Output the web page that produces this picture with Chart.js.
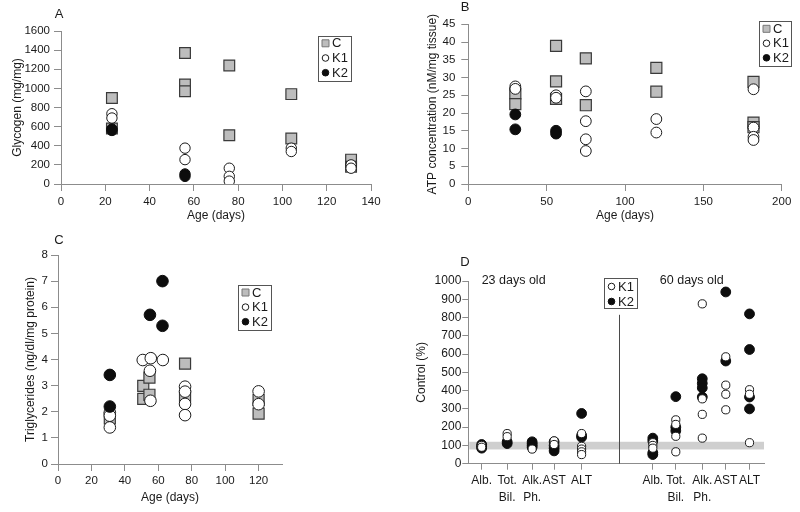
<!DOCTYPE html>
<html>
<head>
<meta charset="utf-8">
<script src="https://cdn.jsdelivr.net/npm/chart.js"></script>
<style>
html, body { margin: 0; padding: 0; background: #fff; }
body { width: 800px; height: 512px; position: relative; overflow: hidden; }
canvas { position: absolute; }
</style>
</head>
<body>
<canvas id="chartA" width="400" height="230" style="left:0;top:0"></canvas>
<canvas id="chartB" width="400" height="230" style="left:400px;top:0"></canvas>
<canvas id="chartC" width="400" height="282" style="left:0;top:230px"></canvas>
<canvas id="chartD" width="400" height="256" style="left:400px;top:256px"></canvas>
<script>
// Panel A - glycogen (mg/mg) by age group
const glyAges = [23, 56, 76, 104, 131];
const glyC  = [[900, 580], [1370, 1040, 970], [1240, 510], [940, 475], [255, 180]];
const glyK1 = [[735, 690], [375, 255], [165, 80, 30], [375, 340], [200, 165]];
const glyK2 = [[575, 560], [105, 80], [], [], []];

// Panel B - ATP concentration (nM/mg tissue)
const atpAges = [30, 56, 75, 120, 182];
const atpC  = [[25.5, 22.5], [38.9, 28.9, 24.0], [35.4, 22.2], [32.7, 26.0], [28.8, 17.3, 16.0]];
const atpK1 = [[27.5, 26.8], [25.0, 24.3], [26.1, 17.7, 12.6, 9.3], [18.3, 14.5], [26.7, 15.9, 13.3, 12.4]];
const atpK2 = [[19.6, 15.4], [15.0, 14.2], [], [], []];

// Panel C - triglycerides (ng/dl/mg protein)
const tgAgeC  = [31, 51, 51, 54.7, 54.7, 76, 76, 120, 120];
const tgValC  = [1.75, 2.99, 2.49, 3.31, 2.65, 3.84, 2.6, 1.93, 2.45];
const tgAgeK1 = [31, 31, 31, 50.7, 55.5, 55, 55.3, 62.7, 76, 76, 76, 76, 120, 120];
const tgValK1 = [1.97, 1.85, 1.4, 3.98, 4.05, 3.57, 2.42, 3.98, 2.96, 2.77, 2.3, 1.87, 2.78, 2.29];
const tgAgeK2 = [31, 31, 55, 62.5, 62.5];
const tgValK2 = [3.41, 2.2, 5.71, 7.0, 5.29];

// Panel D - liver tests, % of control
const enzymeLabels = ['Alb.', ['Tot.', 'Bil.'], ['Alk.', 'Ph.'], 'AST', 'ALT'];
const pos23 = [1, 2.02, 3.02, 3.9, 5];
const pos60 = [7.85, 8.77, 9.83, 10.77, 11.72];
const k1Day23 = [[100, 90], [165, 148], [80], [125, 105], [165, 95, 80, 65, 50]];
const k2Day23 = [[105, 95, 85], [120, 110], [120, 110, 100, 90], [120, 100, 85, 70], [275, 155, 145]];
const k1Day60 = [[115, 100, 85], [240, 215, 150, 65], [875, 355, 270, 140], [585, 430, 380, 295], [405, 380, 115]];
const k2Day60 = [[140, 125, 60, 50], [367, 200, 180], [465, 440, 415, 365], [940, 562], [820, 625, 365, 300]];
const normalBand = [78, 120];
const groupNotes = [{text: '23 days old', x: 1.0}, {text: '60 days old', x: 8.13}];

const FONT = '"Liberation Sans", Arial, Helvetica, sans-serif';
const AXIS_GREY = '#8c8c8c';
const INK = '#1a1a1a';

function groupPoints(xs, groups) {
    const pts = [];
    groups.forEach((vals, i) => vals.forEach(v => pts.push({x: xs[i], y: v})));
    return pts;
}
function pairPoints(xs, ys) {
    return xs.map((x, i) => ({x: x, y: ys[i]}));
}

function marker(kind, r) {
    if (kind === 'C') {
        return {pointStyle: 'rect', backgroundColor: '#bdbdbd', borderColor: '#3a3a3a',
            pointBackgroundColor: '#bdbdbd', pointBorderColor: '#3a3a3a', pointBorderWidth: 1.2,
            pointRadius: r, pointHoverRadius: r};
    }
    const fill = kind === 'K1' ? '#ffffff' : '#0d0d0d';
    const edge = kind === 'K1' ? '#1a1a1a' : '#0d0d0d';
    return {pointStyle: 'circle', backgroundColor: fill, borderColor: edge,
        pointBackgroundColor: fill, pointBorderColor: edge, pointBorderWidth: 1,
        pointRadius: r, pointHoverRadius: r};
}

function axis(o) {
    return {
        type: 'linear',
        min: o.min,
        max: o.max,
        border: {display: true, color: AXIS_GREY, width: 1},
        grid: {drawOnChartArea: false, drawTicks: true, tickLength: o.tickLength || 7, color: AXIS_GREY},
        ticks: {stepSize: o.step, includeBounds: false, padding: o.pad, color: INK,
            font: {family: FONT, size: o.size || 11.5}, maxRotation: 0, autoSkip: false,
            callback: v => String(v)},
        title: o.title ? {display: true, text: o.title, color: INK,
            font: {family: FONT, size: 12}, padding: o.titlePad} : {display: false},
        afterFit: s => {
            if (o.width) s.width = o.width;
            if (o.height) s.height = o.height;
        }
    };
}

// draws panel letter, boxed legend, reference band, divider and group notes
const decor = {
    id: 'decor',
    beforeDatasetsDraw(chart, args, o) {
        const {ctx, chartArea: a, scales: {x, y}} = chart;
        if (o.band) {
            const top = y.getPixelForValue(o.band[1]);
            const bot = y.getPixelForValue(o.band[0]);
            ctx.save();
            ctx.fillStyle = '#cfcfcf';
            ctx.fillRect(a.left + 1, top, a.right - a.left - 1, bot - top);
            ctx.restore();
        }
        if (o.divider) {
            const px = Math.round(x.getPixelForValue(o.divider.at)) + 0.5;
            ctx.save();
            ctx.strokeStyle = '#4a4a4a';
            ctx.lineWidth = 1;
            ctx.beginPath();
            ctx.moveTo(px, y.getPixelForValue(0));
            ctx.lineTo(px, y.getPixelForValue(o.divider.top));
            ctx.stroke();
            ctx.restore();
        }
    },
    afterDraw(chart, args, o) {
        const {ctx, scales: {x, y}} = chart;
        ctx.save();
        if (o.letter) {
            ctx.font = '13px ' + FONT;
            ctx.fillStyle = INK;
            ctx.textAlign = 'center';
            ctx.textBaseline = 'middle';
            ctx.fillText(o.letter.text, o.letter.x, o.letter.y);
        }
        if (o.notes) {
            ctx.font = '12.5px ' + FONT;
            ctx.fillStyle = INK;
            ctx.textAlign = 'left';
            ctx.textBaseline = 'middle';
            o.notes.forEach(n => ctx.fillText(n.text, x.getPixelForValue(n.x), y.getPixelForValue(o.notesAt)));
        }
        if (o.legend) {
            const L = o.legend;
            ctx.strokeStyle = '#555';
            ctx.lineWidth = 1;
            ctx.strokeRect(L.x + 0.5, L.y + 0.5, L.w, L.h);
            ctx.font = '13px ' + FONT;
            ctx.textAlign = 'left';
            ctx.textBaseline = 'middle';
            chart.data.datasets.forEach((ds, i) => {
                const cx = L.x + 7.5;
                const cy = L.y + L.first + i * L.step;
                ctx.fillStyle = ds.backgroundColor;
                ctx.strokeStyle = ds.pointStyle === 'rect' ? '#777' : ds.borderColor;
                ctx.beginPath();
                if (ds.pointStyle === 'rect') ctx.rect(cx - 3.5, cy - 3.5, 7, 7);
                else ctx.arc(cx, cy, 3.3, 0, Math.PI * 2);
                ctx.fill();
                ctx.stroke();
                ctx.fillStyle = INK;
                ctx.fillText(ds.label, L.x + 14, cy + 0.5);
            });
        }
        ctx.restore();
    }
};
Chart.register(decor);

function baseOptions(pad, scales, decorOpts) {
    return {
        responsive: false,
        animation: false,
        devicePixelRatio: 1,
        events: [],
        layout: {padding: pad},
        scales: scales,
        plugins: {legend: {display: false}, tooltip: {enabled: false}, decor: decorOpts}
    };
}

// A
new Chart(document.getElementById('chartA'), {
    type: 'scatter',
    data: {datasets: [
        Object.assign({label: 'C', order: 3, data: groupPoints(glyAges, glyC)}, marker('C', 7.6)),
        Object.assign({label: 'K1', order: 2, data: groupPoints(glyAges, glyK1)}, marker('K1', 5.2)),
        Object.assign({label: 'K2', order: 1, data: groupPoints(glyAges, glyK2)}, marker('K2', 5.2))
    ]},
    options: baseOptions({left: 4, top: 31, right: 29, bottom: 2}, {
        x: axis({min: 0, max: 140, step: 20, pad: 3.8, height: 44, title: 'Age (days)', titlePad: {bottom: 4.8}}),
        y: axis({min: 0, max: 1600, step: 200, pad: 4, width: 57, title: 'Glycogen (mg/mg)', titlePad: {top: 6}})
    }, {
        letter: {text: 'A', x: 59, y: 14},
        legend: {x: 318, y: 36, w: 33, h: 45, first: 7.3, step: 14.7}
    })
});

// B
new Chart(document.getElementById('chartB'), {
    type: 'scatter',
    data: {datasets: [
        Object.assign({label: 'C', order: 3, data: groupPoints(atpAges, atpC)}, marker('C', 7.8)),
        Object.assign({label: 'K1', order: 2, data: groupPoints(atpAges, atpK1)}, marker('K1', 5.4)),
        Object.assign({label: 'K2', order: 1, data: groupPoints(atpAges, atpK2)}, marker('K2', 5.4))
    ]},
    options: baseOptions({left: 4, top: 24.3, right: 18.3, bottom: 2}, {
        x: axis({min: 0, max: 200, step: 50, pad: 3.8, height: 44, title: 'Age (days)', titlePad: {bottom: 4.8}}),
        y: axis({min: 0, max: 45, step: 5, pad: 6, width: 64.3, title: 'ATP concentration (nM/mg tissue)', titlePad: {top: 21.8}})
    }, {
        letter: {text: 'B', x: 65, y: 7.5},
        legend: {x: 359, y: 21, w: 32, h: 45, first: 7.8, step: 14.5}
    })
});

// C
new Chart(document.getElementById('chartC'), {
    type: 'scatter',
    data: {datasets: [
        Object.assign({label: 'C', order: 3, data: pairPoints(tgAgeC, tgValC)}, marker('C', 7.8)),
        Object.assign({label: 'K1', order: 2, data: pairPoints(tgAgeK1, tgValK1)}, marker('K1', 5.8)),
        Object.assign({label: 'K2', order: 1, data: pairPoints(tgAgeK2, tgValK2)}, marker('K2', 5.8))
    ]},
    options: baseOptions({left: 4, top: 25, right: 118, bottom: 3}, {
        x: axis({min: 0, max: 134, step: 20, pad: 2.8, height: 45, title: 'Age (days)', titlePad: {bottom: 4.1}}),
        y: axis({min: 0, max: 8, step: 1, pad: 3, width: 54, title: 'Triglycerides (ng/dl/mg protein)', titlePad: {top: 19.8}})
    }, {
        letter: {text: 'C', x: 59, y: 10},
        legend: {x: 238, y: 55, w: 33, h: 45, first: 7.5, step: 14.6}
    })
});

// D
const xD = axis({min: 0.465, max: 12.3, pad: 2.3, height: 48.3, tickLength: 6, size: 12});
xD.ticks.font.lineHeight = 1.45;
xD.afterBuildTicks = s => { s.ticks = pos23.concat(pos60).map(v => ({value: v})); };
xD.ticks.callback = (v, i) => enzymeLabels[i % enzymeLabels.length];

new Chart(document.getElementById('chartD'), {
    type: 'scatter',
    data: {datasets: [
        Object.assign({label: 'K1', order: 1,
            data: groupPoints(pos23, k1Day23).concat(groupPoints(pos60, k1Day60))}, marker('K1', 4.1)),
        Object.assign({label: 'K2', order: 2,
            data: groupPoints(pos23, k2Day23).concat(groupPoints(pos60, k2Day60))}, marker('K2', 4.9))
    ]},
    options: baseOptions({left: 4, top: 25, right: 36, bottom: 0}, {
        x: xD,
        y: axis({min: 0, max: 1000, step: 100, pad: 1, width: 64.3, tickLength: 6, size: 12,
            title: 'Control (%)', titlePad: {top: 10.8}})
    }, {
        letter: {text: 'D', x: 65, y: 6.5},
        band: normalBand,
        divider: {at: 6.5, top: 815},
        notes: groupNotes,
        notesAt: 1000,
        legend: {x: 204, y: 22, w: 33, h: 30, first: 8.5, step: 15}
    })
});
</script>
</body>
</html>
